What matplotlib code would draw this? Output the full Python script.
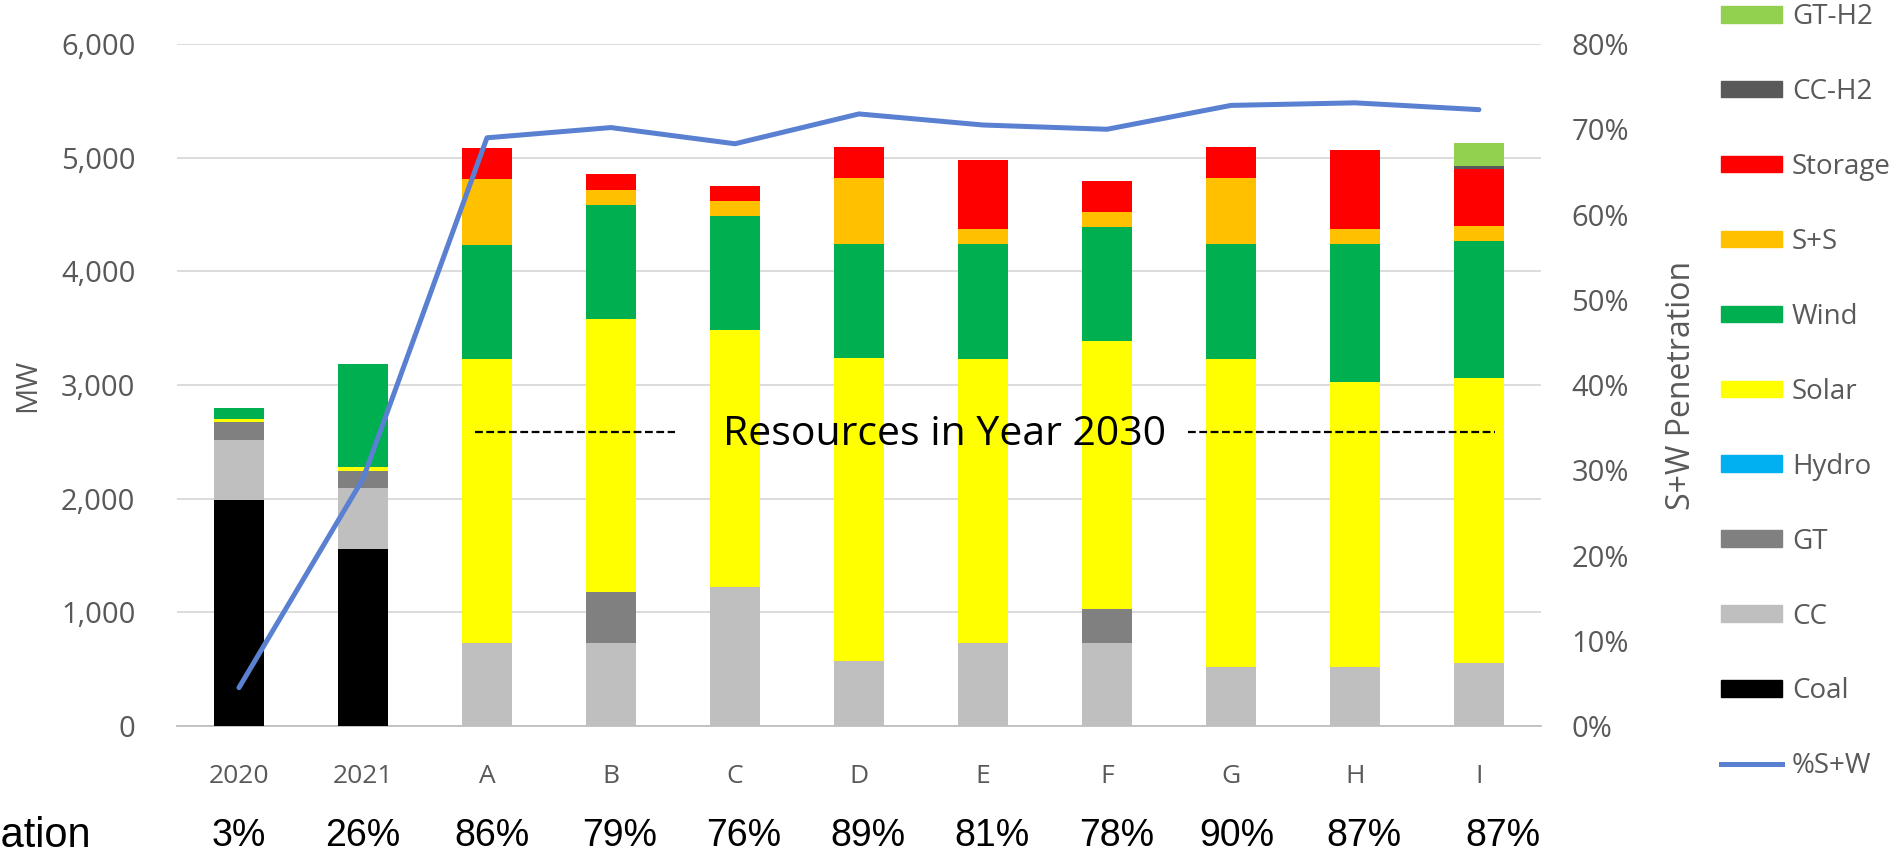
import numpy as np
import matplotlib.pyplot as plt
from matplotlib.patches import Patch
from matplotlib.lines import Line2D
from matplotlib.ticker import FuncFormatter, MultipleLocator
from matplotlib.transforms import blended_transform_factory

plt.rcParams['font.family'] = ['Open Sans', 'DejaVu Sans']

# Data (MW)
categories = ['2020', '2021', 'A', 'B', 'C', 'D', 'E', 'F', 'G', 'H', 'I']
coal = [1990, 1560, 0, 0, 0, 0, 0, 0, 0, 0, 0]
cc = [525, 535, 730, 730, 1220, 575, 730, 730, 520, 520, 555]
gt = [160, 150, 0, 450, 0, 0, 0, 300, 0, 0, 0]
hydro = [0, 0, 0, 0, 0, 0, 0, 0, 0, 0, 0]
solar = [25, 30, 2500, 2400, 2260, 2660, 2500, 2360, 2710, 2510, 2510]
wind = [100, 910, 1005, 1005, 1005, 1005, 1010, 1000, 1010, 1210, 1200]
s_s = [0, 0, 580, 130, 130, 580, 130, 130, 580, 130, 135]
storage = [0, 0, 270, 140, 135, 270, 610, 275, 270, 700, 500]
cc_h2 = [0, 0, 0, 0, 0, 0, 0, 0, 0, 0, 25]
gt_h2 = [0, 0, 0, 0, 0, 0, 0, 0, 0, 0, 200]

# %S+W line (right axis, percent)
sw_share = [4.5, 29.0, 69.0, 70.2, 68.3, 71.8, 70.5, 70.0, 72.8, 73.1, 72.3]

# bottom row
penetration = ['3%', '26%', '86%', '79%', '76%', '89%', '81%', '78%', '90%', '87%', '87%']

series = [
    ('Coal', coal, '#000000'),
    ('CC', cc, '#BFBFBF'),
    ('GT', gt, '#808080'),
    ('Hydro', hydro, '#00B0F0'),
    ('Solar', solar, '#FFFF00'),
    ('Wind', wind, '#00B050'),
    ('S+S', s_s, '#FFC000'),
    ('Storage', storage, '#FF0000'),
    ('CC-H2', cc_h2, '#595959'),
    ('GT-H2', gt_h2, '#92D050'),
]
LINE_COLOR = '#5A80D2'
TEXT_GRAY = '#595959'

W, H = 1901, 858
AX_LEFT, AX_BOTTOM, AX_W, AX_H = 0.0931, 0.1538, 0.7175, 0.7949
# bottom row labels sit a little right of the bar centres in the original
ROW_SHIFT = [0, 0, 0.04, 0.07, 0.07, 0.07, 0.07, 0.08, 0.05, 0.07, 0.19]


def main():
    fig = plt.figure(figsize=(W / 100, H / 100), dpi=100)
    ax = fig.add_axes([AX_LEFT, AX_BOTTOM, AX_W, AX_H])
    ax2 = ax.twinx()

    x = np.arange(len(categories))

    # Stacked bars
    bottom = np.zeros(len(categories))
    for name, vals, color in series:
        vals = np.array(vals, dtype=float)
        ax.bar(x, vals, 0.41, bottom=bottom, color=color, label=name, zorder=3)
        bottom += vals

    # Y axis (left)
    ax.set_ylim(0, 6000)
    ax.yaxis.set_major_locator(MultipleLocator(1000))
    ax.yaxis.set_major_formatter(FuncFormatter(lambda v, _: f'{v:,.0f}'))
    ax.grid(axis='y', color='#D9D9D9', linewidth=1.3, zorder=0)
    ax.set_axisbelow(True)
    ax.set_ylabel('MW', fontsize=21, color=TEXT_GRAY)
    ax.yaxis.set_label_coords((42 / W - AX_LEFT) / AX_W, 0.5)

    # X axis
    ax.set_xlim(-0.5, len(categories) - 0.5)
    ax.set_xticks(x, categories)
    ax.tick_params(axis='x', length=0, pad=27, labelsize=19, labelcolor=TEXT_GRAY)
    ax.tick_params(axis='y', length=0, pad=30, labelsize=21, labelcolor=TEXT_GRAY)

    for side in ['top', 'left', 'right']:
        ax.spines[side].set_visible(False)
        ax2.spines[side].set_visible(False)
    ax.spines['bottom'].set_color('#BFBFBF')
    ax.spines['bottom'].set_linewidth(1.3)
    ax2.spines['bottom'].set_visible(False)

    # Right axis line
    ax2.plot(x, sw_share, color=LINE_COLOR, linewidth=3.6, solid_capstyle='round', zorder=5)
    ax2.set_ylim(0, 80)
    ax2.yaxis.set_major_locator(MultipleLocator(10))
    ax2.yaxis.set_major_formatter(FuncFormatter(lambda v, _: f'{v:.0f}%'))
    ax2.tick_params(axis='y', length=0, pad=22, labelsize=21, labelcolor=TEXT_GRAY)
    ax2.set_ylabel('S+W Penetration', fontsize=23, color=TEXT_GRAY,
                   family=['Liberation Sans Narrow', 'Open Sans'])
    ax2.yaxis.set_label_coords((1665 / W - AX_LEFT) / AX_W, 0.5)

    # Annotation
    ax.text(5.69, 2560, 'Resources in Year 2030', ha='center', va='center', fontsize=29.5,
            color='black', zorder=6)
    ax.plot([1.90, 3.52], [2590, 2590], color='black', linewidth=1.6, linestyle=(0, (3.5, 1.6)), zorder=6)
    ax.plot([7.65, 10.13], [2590, 2590], color='black', linewidth=1.6, linestyle=(0, (3.5, 1.6)), zorder=6)

    # Bottom row (x in data units, y in figure units)
    row_y = 1 - 836 / H
    trans = blended_transform_factory(ax.transData, fig.transFigure)
    for xi, dx, label in zip(x, ROW_SHIFT, penetration):
        ax.text(xi + dx, row_y, label, transform=trans, ha='center', va='center',
                fontsize=27, family='Liberation Sans', color='black', clip_on=False)
    # cut off by the left edge, as in the original
    fig.text(91 / W, row_y, 'Penetration', ha='right', va='center',
             fontsize=30, family='Liberation Sans', color='black')

    # Legend
    handles = [Patch(color=c) for _, _, c in series[::-1]]
    labels = [n for n, _, _ in series[::-1]]
    handles.append(Line2D([0], [0], color=LINE_COLOR, linewidth=3.6))
    labels.append('%S+W')
    leg = fig.legend(handles, labels, loc='upper left', bbox_to_anchor=(1721 / W, 1 - 3 / H),
                     frameon=False, fontsize=20, handlelength=2.2, handleheight=0.55,
                     handletextpad=0.35, labelspacing=1.69, borderpad=0, borderaxespad=0)
    for t in leg.get_texts():
        t.set_color(TEXT_GRAY)

    fig.savefig('out.png', dpi=100)


if __name__ == '__main__':
    main()
